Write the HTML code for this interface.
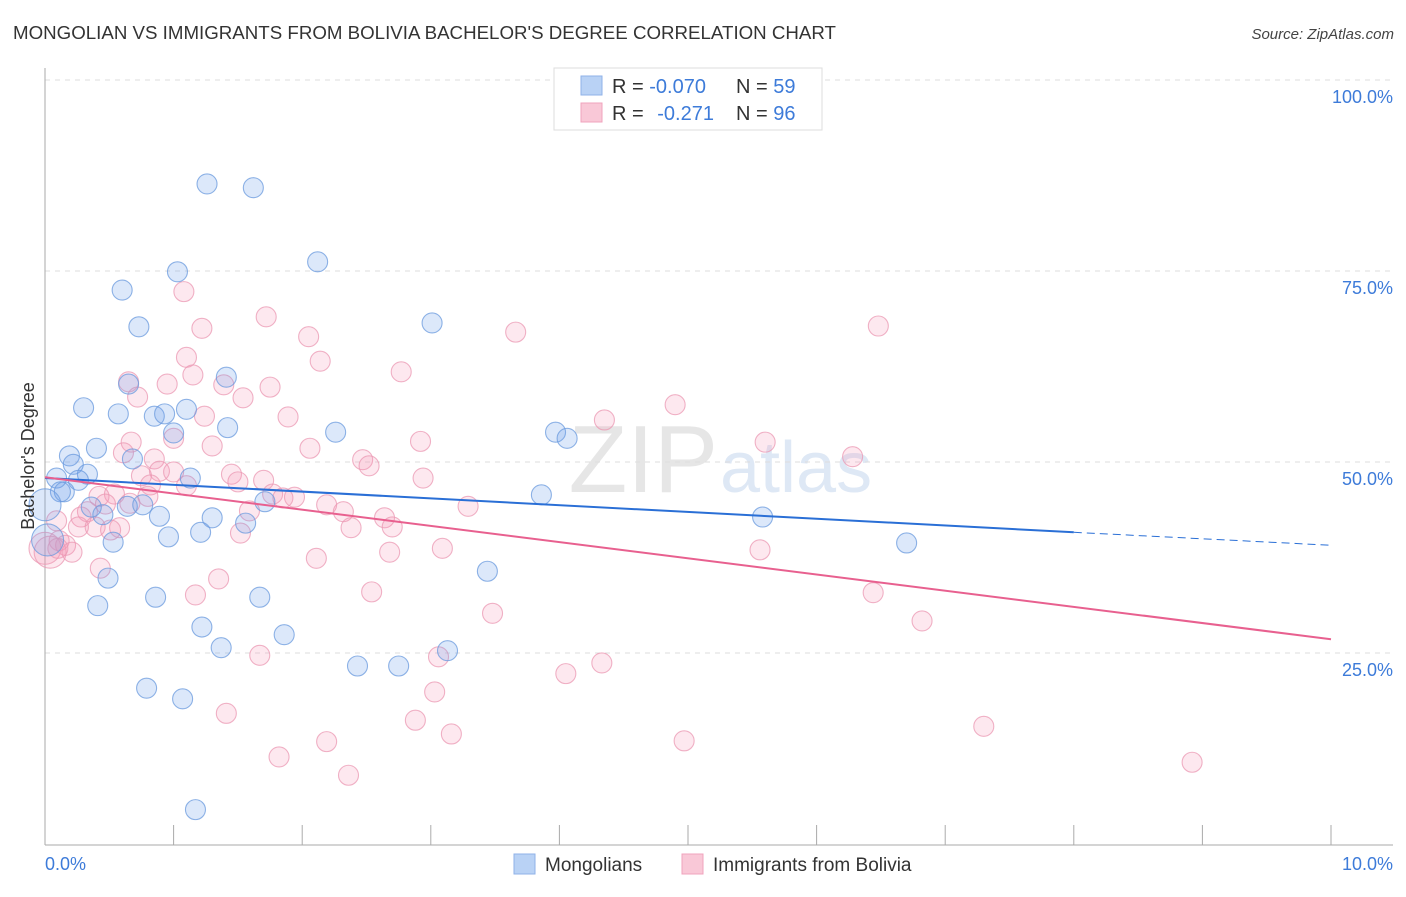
<!DOCTYPE html>
<html><head><meta charset="utf-8"><style>
body{margin:0;background:#fff;font-family:"Liberation Sans",sans-serif}
svg text{font-family:"Liberation Sans",sans-serif}
</style></head><body>
<svg id="chart" width="1406" height="892" viewBox="0 0 1406 892">
<text x="13" y="39" font-size="18" fill="#333" textLength="823" lengthAdjust="spacingAndGlyphs">MONGOLIAN VS IMMIGRANTS FROM BOLIVIA BACHELOR'S DEGREE CORRELATION CHART</text>
<text x="1394" y="39" font-size="15" fill="#444" text-anchor="end" font-style="italic">Source: ZipAtlas.com</text>
<text x="718" y="492" font-size="96" fill="#d6d6d6" text-anchor="end" font-family="Liberation Serif" opacity="0.6">ZIP</text>
<text x="720" y="492" font-size="72" fill="#c9d9ef" opacity="0.6">atlas</text>
<g id="grid"></g><g id="axes"></g><g id="pts"></g><g id="lines"></g>
<text transform="translate(34,456) rotate(-90)" font-size="18" fill="#333" text-anchor="middle">Bachelor's Degree</text>
<text x="45" y="870" font-size="18" fill="#3d7bd9">0.0%</text>
<text x="1393" y="870" font-size="18" fill="#3d7bd9" text-anchor="end">10.0%</text>
<g>
<rect x="554" y="68" width="268" height="62" fill="#fff" stroke="#ddd"/>
<rect x="581" y="76" width="21" height="19" fill="#b9d2f5" stroke="#8fb2e8"/>
<rect x="581" y="103" width="21" height="19" fill="#f9c8d7" stroke="#f0a3bc"/>
<text x="612" y="93" font-size="20" fill="#333">R = <tspan fill="#3d7bd9">-0.070</tspan></text>
<text x="736" y="93" font-size="20" fill="#333">N = <tspan fill="#3d7bd9">59</tspan></text>
<text x="612" y="120" font-size="20" fill="#333">R = <tspan fill="#3d7bd9" dx="8">-0.271</tspan></text>
<text x="736" y="120" font-size="20" fill="#333">N = <tspan fill="#3d7bd9">96</tspan></text>
</g>
<g>
<rect x="514" y="854" width="21" height="20" fill="#b9d2f5" stroke="#8fb2e8"/>
<text x="545" y="871" font-size="19" fill="#333">Mongolians</text>
<rect x="682" y="854" width="21" height="20" fill="#f9c8d7" stroke="#f0a3bc"/>
<text x="713" y="871" font-size="19" fill="#333">Immigrants from Bolivia</text>
</g>
</svg>
<script>
const yTicks=[25,50,75,100];
const yTickLabels=["25.0%","50.0%","75.0%","100.0%"];
const xTicks=[0,1,2,3,4,5,6,7,8,9,10];
const blueX=[1.26,1.62,1.03,2.12,0.60,0.73,3.01,0.65,1.41,0.30,0.57,0.85,0.93,1.10,1.42,1.00,2.26,0.40,0.19,0.22,0.68,0.33,0.09,0.26,1.13,0.15,0.12,3.97,4.06,3.86,1.71,0.36,0.64,0.76,0.45,0.89,1.30,1.56,0.00,1.21,0.96,0.53,5.58,6.70,3.44,0.49,0.41,0.86,1.67,1.22,1.86,1.37,3.13,2.43,2.75,0.79,1.07,1.17,0.02];
const blueY=[86.4,85.9,74.9,76.2,72.5,67.7,68.2,60.2,61.1,57.1,56.3,56.0,56.3,56.9,54.5,53.8,53.9,51.8,50.8,49.7,50.4,48.4,47.9,47.6,47.9,46.1,46.1,53.9,53.1,45.7,44.8,44.1,44.2,44.4,43.1,42.9,42.7,42.0,44.4,40.8,40.2,39.5,42.8,39.4,35.7,34.8,31.2,32.3,32.3,28.4,27.4,25.7,25.3,23.3,23.3,20.4,19.0,4.5,39.8];
const pinkX=[1.08,1.72,1.22,2.05,3.66,6.48,2.14,1.10,2.77,1.15,0.65,0.95,1.75,0.72,1.54,1.39,1.89,1.24,4.35,4.90,0.67,1.00,1.30,2.06,2.92,5.60,6.28,2.47,2.52,0.61,0.85,0.75,0.89,1.00,1.45,1.50,1.70,0.82,2.94,1.10,0.54,0.80,0.42,1.77,1.94,1.85,2.19,3.29,0.47,0.66,0.33,1.59,2.64,2.32,0.28,0.09,0.26,0.39,0.58,0.51,1.52,2.70,2.38,0.11,0.16,0.00,0.04,0.21,2.11,2.68,3.09,5.56,0.43,1.35,2.54,6.44,1.17,3.48,6.82,1.67,3.06,4.33,4.05,3.03,1.41,2.88,3.16,7.30,2.19,4.97,1.82,2.36,8.92,0.10];
const pinkY=[72.3,69.0,67.5,66.4,67.0,67.8,63.2,63.7,61.8,61.4,60.5,60.2,59.8,58.5,58.4,60.1,55.9,56.0,55.5,57.5,52.6,53.1,52.1,51.8,52.7,52.6,50.7,50.3,49.5,51.2,50.4,48.2,48.8,48.7,48.4,47.4,47.6,47.0,47.9,46.9,45.8,45.5,45.5,45.8,45.4,45.3,44.4,44.2,44.5,44.6,43.5,43.6,42.7,43.5,42.8,42.3,41.5,41.5,41.4,41.1,40.7,41.5,41.4,39.7,39.1,38.7,38.2,38.2,37.4,38.2,38.7,38.5,36.1,34.7,33.0,32.9,32.6,30.2,29.2,24.7,24.5,23.7,22.3,19.9,17.1,16.2,14.4,15.4,13.4,13.5,11.4,9.0,10.7,38.7];
const blueTrend=[47.9,40.8,39.1]; // at x=0, 8, 10
const pinkTrend=[48.0,26.8]; // at x=0, 10
const NS="http://www.w3.org/2000/svg";
const X=v=>45+v*128.6, Y=v=>844-v*7.64;
function mk(t,a,p){const e=document.createElementNS(NS,t);for(const k in a)e.setAttribute(k,a[k]);p.appendChild(e);return e;}
const grid=document.getElementById('grid'),axes=document.getElementById('axes'),pts=document.getElementById('pts'),lines=document.getElementById('lines');
yTicks.forEach((t,i)=>{
 const l=mk('line',{x1:45,x2:1393,y1:Y(t),y2:Y(t),stroke:'#ddd','stroke-dasharray':'5,5'},grid);
 
 
 const tx=mk('text',{x:1393,y:Y(t)+23,'font-size':18,fill:'#3d7bd9','text-anchor':'end'},grid);
 tx.textContent=yTickLabels[i];
 
 
});
const ya=mk('line',{x1:45,x2:45,y1:68,y2:845,stroke:'#aaa'},axes);


const xa=mk('line',{x1:45,x2:1393,y1:845,y2:845,stroke:'#aaa'},axes);


xTicks.forEach(t=>{const k=mk('line',{x1:X(t),x2:X(t),y1:825,y2:845,stroke:'#aaa'},axes);
 
 });
function dots(xs,ys,fill,stroke,name){xs.forEach((x,i)=>{
 const r=(x<0.05)?16:10;
 const c=mk('circle',{cx:X(x),cy:Y(ys[i]),r:r,fill:fill,stroke:stroke,'stroke-width':1.1,'stroke-opacity':0.75},pts);
 
 });}
dots(pinkX,pinkY,'rgba(245,150,180,0.22)','#eb98b3','bolivia-point');
dots(blueX,blueY,'rgba(110,160,235,0.24)','#6a9ade','mongolian-point');
const b1=mk('line',{x1:X(0),y1:Y(blueTrend[0]),x2:X(8),y2:Y(blueTrend[1]),stroke:'#2a6fd6','stroke-width':2},lines);


const b2=mk('line',{x1:X(8),y1:Y(blueTrend[1]),x2:X(10),y2:Y(blueTrend[2]),stroke:'#2a6fd6','stroke-width':1,'stroke-dasharray':'8,5'},lines);


const p1=mk('line',{x1:X(0),y1:Y(pinkTrend[0]),x2:X(10),y2:Y(pinkTrend[1]),stroke:'#e8608f','stroke-width':2},lines);


</script>
</body></html>
